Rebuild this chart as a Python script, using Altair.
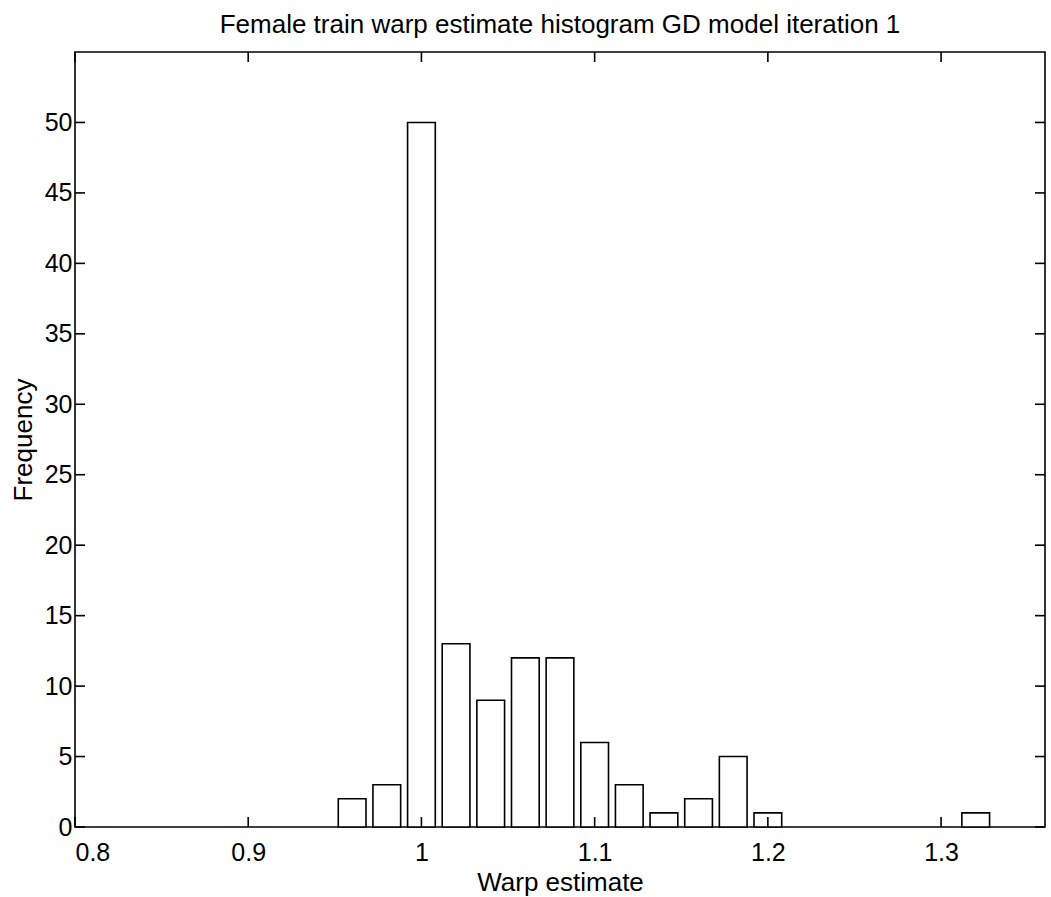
import altair as alt
import pandas as pd

# ---- data ----
bin_centers = [0.96, 0.98, 1.00, 1.02, 1.04, 1.06, 1.08, 1.10, 1.12, 1.14, 1.16, 1.18, 1.20, 1.32]
frequencies = [2, 3, 50, 13, 9, 12, 12, 6, 3, 1, 2, 5, 1, 1]
x_ticks = [0.8, 0.9, 1.0, 1.1, 1.2, 1.3]
y_ticks = [0, 5, 10, 15, 20, 25, 30, 35, 40, 45, 50]
x_domain = [0.8, 1.36]
y_domain = [0, 55]
bin_width = 0.02

# ---- styles ----
FONT = "Liberation Sans"
W, H = 970, 775
TICK = 10
BAR_FRAC = 0.8
LW = 1.6

bars_df = pd.DataFrame({"center": bin_centers, "freq": frequencies})
xt_df = pd.DataFrame({"xt": x_ticks})
yt_df = pd.DataFrame({"yt": y_ticks})

xscale = alt.Scale(domain=x_domain, nice=False, zero=False)
yscale = alt.Scale(domain=y_domain, nice=False)

xaxis = alt.Axis(values=x_ticks, format="~g", title="Warp estimate",
                 tickSize=0, domain=False, grid=False,
                 labelPadding=13, titlePadding=4)
yaxis = alt.Axis(values=y_ticks, title="Frequency", tickSize=0,
                 domain=False, grid=False, labelPadding=3, titlePadding=8)

half = bin_width * BAR_FRAC / 2

bars = alt.Chart(bars_df).transform_calculate(
    x0=f"datum.center - {half}", x1=f"datum.center + {half}"
).mark_bar(fill="white", stroke="black", strokeWidth=LW).encode(
    x=alt.X("x0:Q", scale=xscale, axis=xaxis),
    x2="x1:Q",
    y=alt.Y("freq:Q", scale=yscale, axis=yaxis),
    y2=alt.datum(0),
)

rule = dict(color="black", strokeWidth=LW)
xb = alt.Chart(xt_df).mark_rule(**rule).encode(
    x=alt.X("xt:Q", scale=xscale, axis=xaxis), y=alt.value(H), y2=alt.value(H - TICK))
xt = alt.Chart(xt_df).mark_rule(**rule).encode(
    x=alt.X("xt:Q", scale=xscale, axis=xaxis), y=alt.value(0), y2=alt.value(TICK))
yl = alt.Chart(yt_df).mark_rule(**rule).encode(
    y=alt.Y("yt:Q", scale=yscale, axis=yaxis), x=alt.value(0), x2=alt.value(TICK))
yr = alt.Chart(yt_df).mark_rule(**rule).encode(
    y=alt.Y("yt:Q", scale=yscale, axis=yaxis), x=alt.value(W - TICK), x2=alt.value(W))

chart = alt.layer(bars, xb, xt, yl, yr).properties(
    width=W, height=H,
    background="white",
    title=alt.TitleParams("Female train warp estimate histogram GD model iteration 1",
                          font=FONT, fontSize=26, fontWeight="normal", color="black",
                          anchor="middle", offset=13),
    autosize=alt.AutoSizeParams(type="none"),
    padding={"left": 75, "top": 52, "right": 6, "bottom": 70},
).configure_view(stroke="black", strokeWidth=LW).configure_axis(
    labelFont=FONT, labelFontSize=25, labelColor="black",
    titleFont=FONT, titleFontSize=26, titleColor="black", titleFontWeight="normal",
)

chart.save("out.html", embed_options={"renderer": "svg", "actions": False})
